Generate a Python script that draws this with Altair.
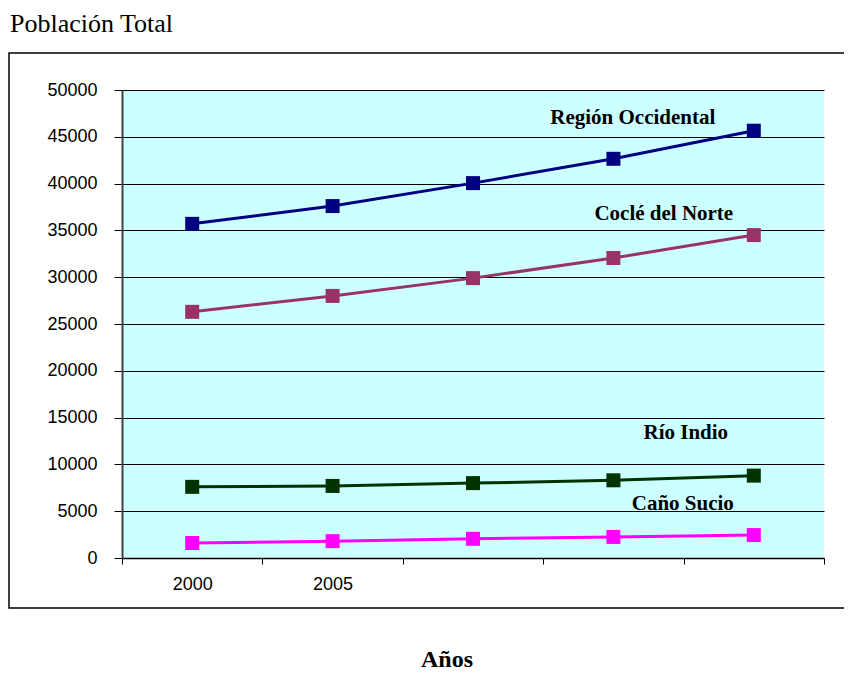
import altair as alt
import pandas as pd

years = ["2000", "2005", "2010", "2015", "2020"]
region_occidental = [35700, 37600, 40050, 42650, 45650]
cocle_norte = [26300, 28000, 29900, 32050, 34500]
rio_indio = [7600, 7700, 8000, 8300, 8800]
cano_sucio = [1600, 1800, 2050, 2250, 2450]

series_names = ["Región Occidental", "Coclé del Norte", "Río Indio", "Caño Sucio"]
series_colors = ["#000080", "#993366", "#003300", "#FF00FF"]

label_years = ["2020", "2020", "2020", "2020"]
label_values = [47000, 36750, 13350, 5770]
label_dx = [-121, -90, -68, -71]

rows = []
for name, vals in zip(series_names, [region_occidental, cocle_norte, rio_indio, cano_sucio]):
    for y, v in zip(years, vals):
        rows.append({"year": y, "value": v, "series": name})
df = pd.DataFrame(rows)

xenc = alt.X(
    "year:N",
    sort=years,
    bandPosition=0.5,
    scale=alt.Scale(type="band", domain=years, paddingInner=0, paddingOuter=0),
    axis=alt.Axis(
        title=None,
        tickBand="extent",
        labelAngle=0,
        labelExpr="datum.value == '2000' || datum.value == '2005' ? datum.value : ''",
        labelFont="Liberation Sans",
        labelFontSize=18,
        labelColor="black",
        labelPadding=11,
        tickSize=6,
        tickColor="black",
        domainColor="black",
        domainWidth=1.5,
        grid=False,
    ),
)
yenc = alt.Y(
    "value:Q",
    scale=alt.Scale(domain=[0, 50000], nice=False),
    axis=alt.Axis(
        title=None,
        values=list(range(0, 50001, 5000)),
        format="d",
        labelFont="Liberation Sans",
        labelFontSize=18,
        labelColor="black",
        labelPadding=17,
        tickSize=8,
        tickColor="black",
        domainColor="#404040",
        domainWidth=2,
        grid=True,
        gridColor="black",
        gridWidth=1,
    ),
)
color = alt.Color(
    "series:N",
    scale=alt.Scale(domain=series_names, range=series_colors),
    legend=None,
)

base = alt.Chart(df)
lines = base.mark_line(strokeWidth=3).encode(x=xenc, y=yenc, color=color, detail="series:N")
points = base.mark_point(shape="square", filled=True, size=196, opacity=1).encode(
    x=xenc, y=yenc, color=color
)

lab_df = pd.DataFrame({"year": label_years, "value": label_values, "label": series_names, "dx": label_dx})
labels = []
for i in range(len(series_names)):
    labels.append(
        alt.Chart(lab_df.iloc[[i]]).mark_text(
            font="Liberation Serif", fontWeight="bold", fontSize=21, color="black",
            dx=label_dx[i], align="center", baseline="middle",
        ).encode(
            x=alt.X("year:N", sort=years, bandPosition=0.5),
            y=alt.Y("value:Q"),
            text="label:N",
        )
    )

one = pd.DataFrame({"a": [0]})
frame = alt.Chart(one).mark_rect(fillOpacity=0, stroke="black", strokeWidth=1.5).encode(
    x=alt.value(-113), x2=alt.value(760), y=alt.value(-37), y2=alt.value(518)
)
title = alt.Chart(one).mark_text(
    text="Población Total", font="Liberation Serif", fontSize=26, color="black",
    align="left", baseline="alphabetic",
).encode(x=alt.value(-112), y=alt.value(-58))
xtitle = alt.Chart(one).mark_text(
    text="Años", font="Liberation Serif", fontSize=24, fontWeight="bold", color="black",
    align="center", baseline="middle",
).encode(x=alt.value(325), y=alt.value(570))

chart = alt.layer(frame, lines, points, *labels, title, xtitle).properties(
    width=702,
    height=468,
    autosize=alt.AutoSizeParams(type="none"),
    padding={"left": 114, "top": 82, "right": 20, "bottom": 118},
    background="white",
).configure_view(fill="#CCFFFF", strokeWidth=0)

chart.save("out.html", embed_options={"renderer": "svg", "actions": False})
